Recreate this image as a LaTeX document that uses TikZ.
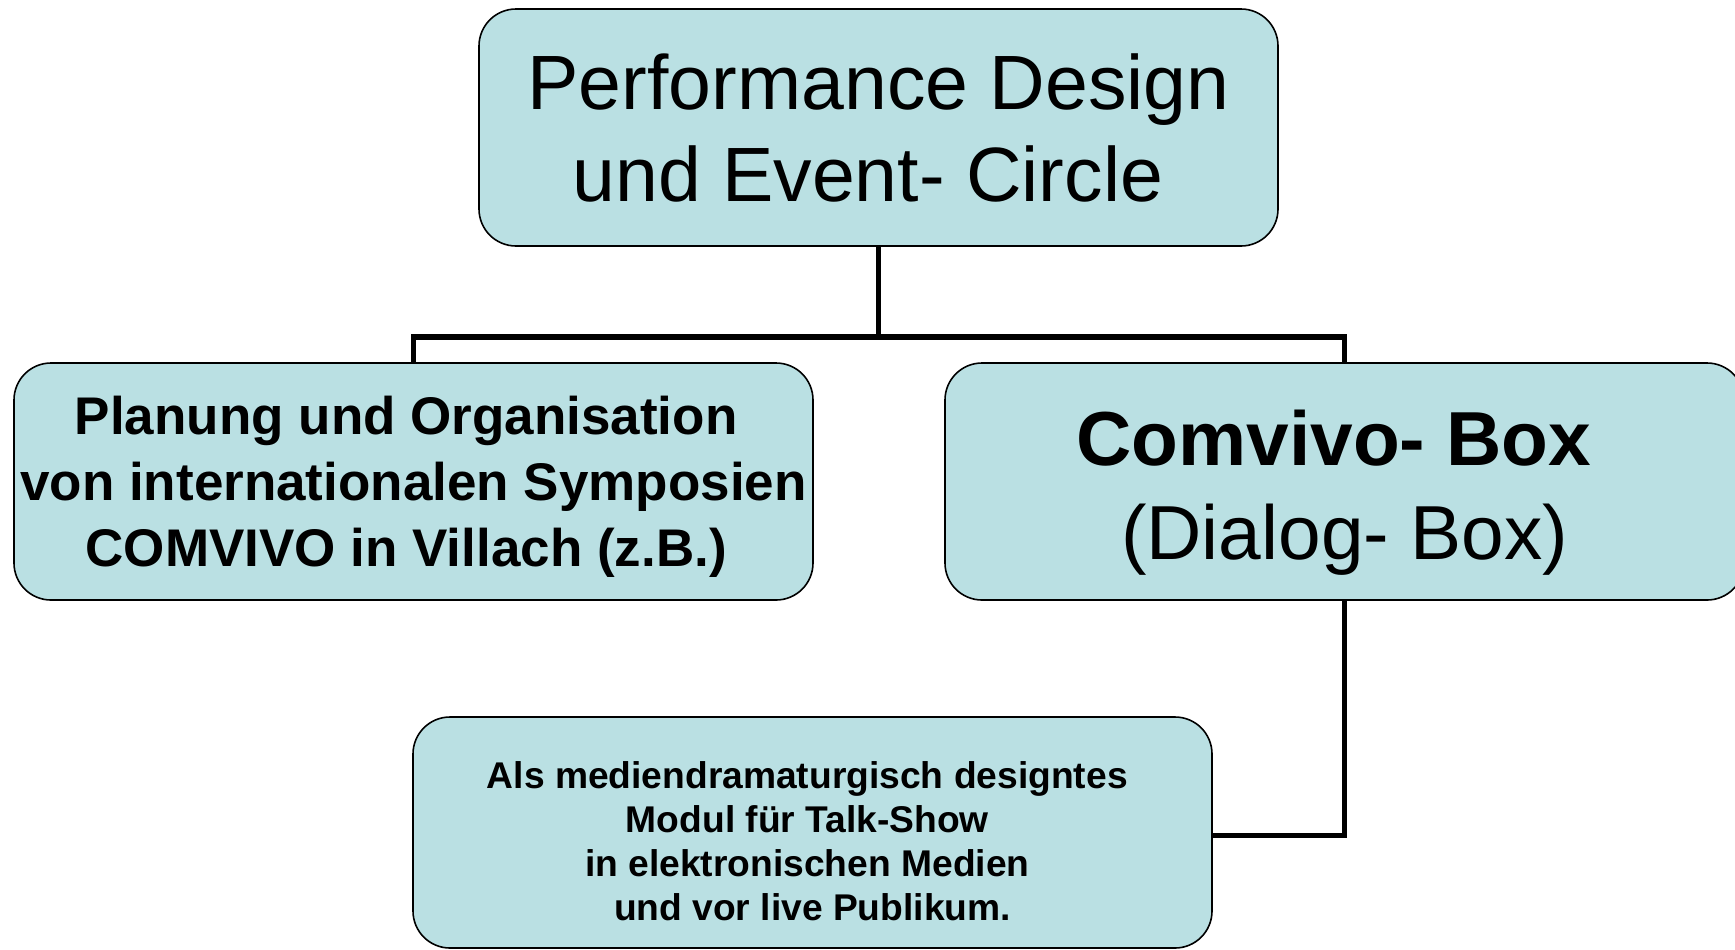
\documentclass[tikz,border=0pt]{standalone}
\usepackage{fontspec}
\setmainfont{Liberation Sans}
\definecolor{boxfill}{RGB}{186,224,227}
\newcommand{\trsp}{\kern.278em}
\begin{document}
\begin{tikzpicture}[x=0.5pt,y=-0.5pt,
  orgbox/.style={draw=black,line width=0.8pt,fill=boxfill,rounded corners=18.5pt,
    minimum width=399.5pt,minimum height=118.5pt,inner sep=0pt,align=center},
  conn/.style={draw=black,line width=2.6pt}]
\useasboundingbox (0,0) rectangle (1735,949);
\node[orgbox,font=\fontsize{38.5pt}{46pt}\selectfont] (top) at (878.5,127.5)
  {Performance Design\\und Event- Circle\trsp};
\node[orgbox,font=\fontsize{26.5pt}{33pt}\selectfont\bfseries] (left) at (413.5,481.5)
  {\rule{0pt}{24.6pt}Planung und Organisation\trsp\\von internationalen Symposien\\COMVIVO in Villach (z.B.)\trsp};
\node[orgbox,font=\fontsize{38.3pt}{47pt}\selectfont] (right) at (1344.5,481.5)
  {\rule{0pt}{39.3pt}\textbf{Comvivo- Box}\trsp\\(Dialog- Box)};
\node[orgbox,minimum height=115.5pt,font=\fontsize{18.6pt}{22pt}\selectfont\bfseries] (bottom) at (812.5,832.5)
  {\rule{0pt}{22.6pt}Als mediendramaturgisch designtes\trsp\\Modul für Talk-Show\trsp\\in elektronischen Medien\trsp\\und vor live Publikum.};
\coordinate (bus) at (878.5,337);
\draw[conn] (top.south) -- (bus);
\draw[conn] (left.north) |- (bus) -| (right.north);
\draw[conn] (right.south) |- ([yshift=-1.5pt]bottom.east);
\end{tikzpicture}
\end{document}
